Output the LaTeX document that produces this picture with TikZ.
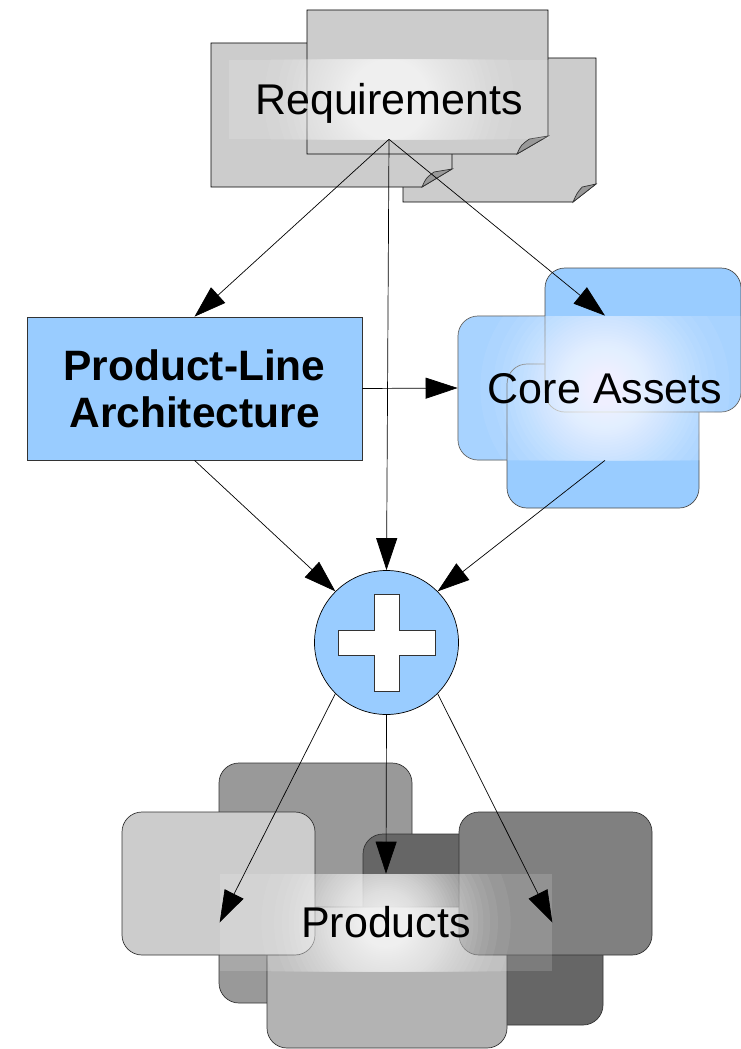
\documentclass[tikz,border=0pt]{standalone}
\usepackage{fontspec}
\setmainfont{Liberation Sans}
\usepackage{tikz}
\usetikzlibrary{arrows.meta}

\definecolor{CoreBlue}{HTML}{99CCFF}
\definecolor{DocGray}{HTML}{CCCCCC}
\definecolor{FoldGray}{HTML}{999999}
\definecolor{ProdA}{HTML}{999999}
\definecolor{ProdD}{HTML}{666666}
\definecolor{ProdM}{HTML}{B3B3B3}
\definecolor{ProdL}{HTML}{CCCCCC}
\definecolor{ProdR}{HTML}{808080}

\newcommand\foldeddoc[5]{% x1, y1, x2, y2, fold width
  \filldraw[DocSty] (#1,#2) -- (#3,#2) -- (#3,#4-18) -- (#3-#5,#4) -- (#1,#4) -- cycle;
  \filldraw[FoldSty] (#3-#5,#4) .. controls (#3-#5+4,#4-9) .. (#3-0.6*#5,#4-15) -- (#3,#4-18) -- cycle;
}

\newcommand\glowfill{% white glow inside a band
  \fill[white,opacity=0.15] (path picture bounding box.south west) rectangle (path picture bounding box.north east);
  \foreach \k in {1,...,46}
  {
    \pgfmathsetmacro\glowr{145*(1-((\k-0.5)/46)^0.435)}
    \fill[white,opacity=0.06] (path picture bounding box.center) circle[radius=\glowr pt];
  }
}

\begin{document}
\begin{tikzpicture}[x=1pt,y=-1pt]
		\tikzstyle{every path}=[line width=0.7pt]
		\tikzstyle{ArrSty}=[-{Triangle[length=32pt,width=21pt]}]
		\tikzstyle{DocSty}=[fill=DocGray,draw=black]
		\tikzstyle{FoldSty}=[fill=FoldGray,draw=black!80]
		\tikzstyle{BandSty}=[rectangle,inner sep=0pt,text height=30pt,text depth=0pt,
								  font=\fontsize{43}{48}\selectfont,
								  path picture={\glowfill}]
		\tikzstyle{PlaSty}=[rectangle,draw=black!80,fill=CoreBlue,inner sep=0pt,
								  minimum width=335pt,minimum height=143pt,align=center,
								  font=\fontsize{42.5}{47}\selectfont\bfseries]
		\tikzstyle{CoreSty}=[rectangle,rounded corners=20pt,draw=black!70,fill=CoreBlue,
								  minimum width=192pt,minimum height=144pt,inner sep=0pt]
		\tikzstyle{ProdSty}=[rectangle,rounded corners=20pt,draw=black!80,
								  minimum width=193pt,minimum height=143pt,inner sep=0pt]
		\tikzstyle{PlusSty}=[circle,draw=black,fill=CoreBlue,minimum size=144pt,inner sep=0pt]
		\tikzstyle{CrossSty}=[fill=white,draw=black!80]

\useasboundingbox (0,0) rectangle (741,1049);

% requirements
\foldeddoc{403}{58}{596}{202}{23}
\foldeddoc{211}{43}{452}{187}{30}
\foldeddoc{307}{10}{548}{154}{31}
\node[BandSty,minimum width=320pt,minimum height=79pt] (reqband) at (389,99.5) {Requirements};

% architecture
\node[PlaSty] (pla) at (194.5,388.5) {Product-Line\\Architecture};

% core assets
\node[CoreSty] (coreL) at (554,388) {};
\node[CoreSty] (coreB) at (603,436) {};
\node[CoreSty,minimum width=196pt] (coreR) at (643,340) {};
\node[BandSty,minimum width=294pt,minimum height=144pt] (coreband) at (605,388) {Core Assets};

% plus
\node[PlusSty] (plus) at (386.5,642.5) {};
\draw[CrossSty] (plus.center) ++(-12.5,-48.5) -- ++(25,0) -- ++(0,36) -- ++(36,0) -- ++(0,25)
  -- ++(-36,0) -- ++(0,36) -- ++(-25,0) -- ++(0,-36) -- ++(-36,0) -- ++(0,-25) -- ++(36,0) -- cycle;

% products
\node[ProdSty,fill=ProdA,minimum height=240pt] (prodA) at (315.5,883) {};
\node[ProdSty,fill=ProdD,minimum width=240pt,minimum height=191pt] (prodD) at (483,929.5) {};
\node[ProdSty,fill=ProdM,minimum width=240pt,minimum height=141pt] (prodM) at (387,977.5) {};
\node[ProdSty,fill=ProdL] (prodL) at (218.5,883.5) {};
\node[ProdSty,fill=ProdR] (prodR) at (555.5,883.5) {};
\node[BandSty,minimum width=332pt,minimum height=97pt] (prodband) at (386,922.5) {Products};

% arrows
\foreach \dst in {pla.north,plus.north,coreband.north}
{
  \draw[ArrSty] (reqband.south) -- (\dst);
}
\draw[ArrSty] (pla.east) -- (coreL.west);
\draw[ArrSty] (pla.south) -- (plus.north west);
\draw[ArrSty] (coreband.south) -- (plus.north east);
\foreach \src/\dst in {south west/west,south/north,south east/east}
{
  \draw[ArrSty] (plus.\src) -- (prodband.\dst);
}

\end{tikzpicture}
\end{document}
